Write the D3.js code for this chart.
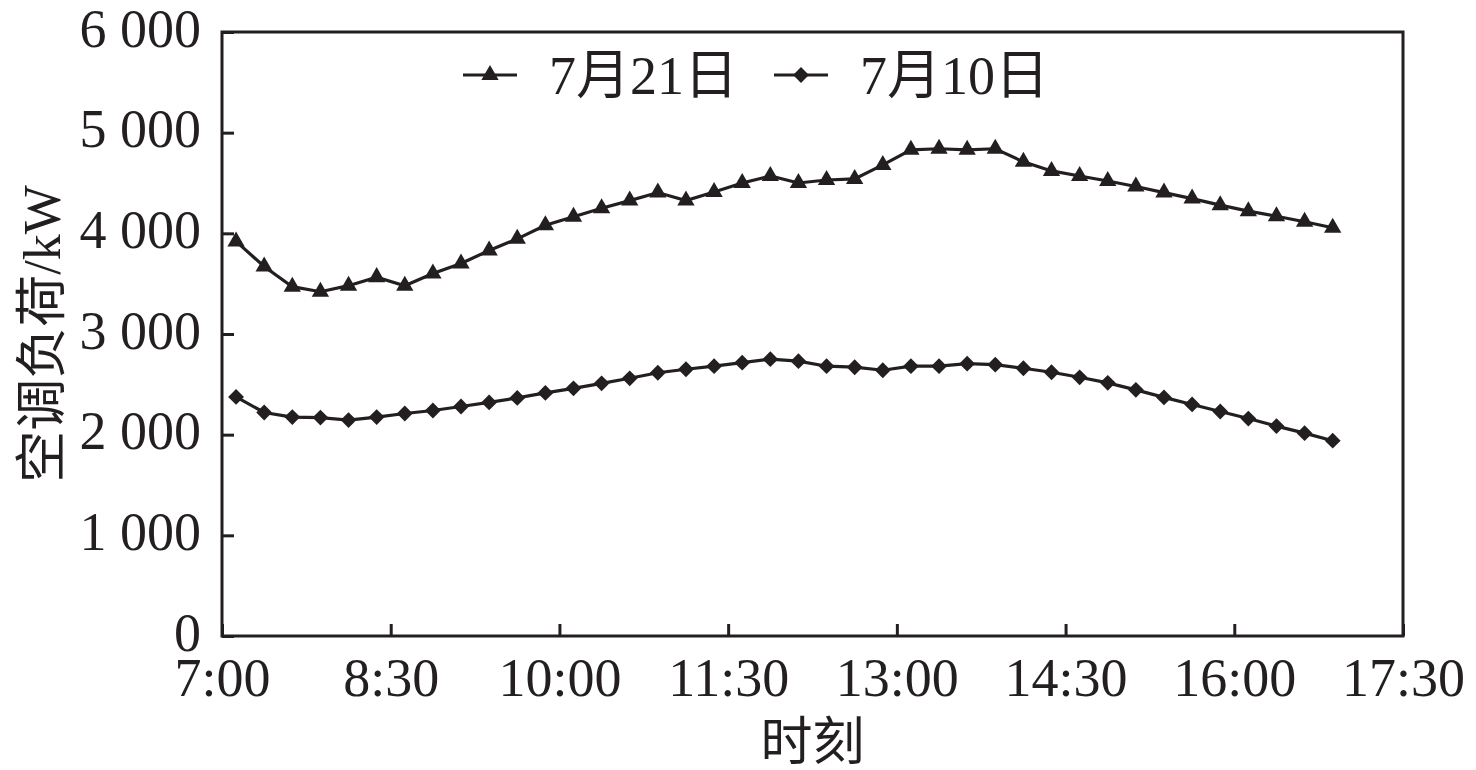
<!DOCTYPE html>
<html>
<head>
<meta charset="utf-8">
<script src="https://cdn.jsdelivr.net/npm/d3@7"></script>
<style>
  html, body { margin: 0; padding: 0; background: #fff; }
  text { font-family: "Liberation Serif", "Noto Sans CJK SC", serif; fill: #231f20; }
</style>
</head>
<body>
<div id="chart"></div>
<script>
// quarter-hour slots, each value plotted at the middle of its slot
const TIMES = [
    "7:00", "7:15", "7:30", "7:45", "8:00", "8:15", "8:30", "8:45",
    "9:00", "9:15", "9:30", "9:45", "10:00", "10:15", "10:30", "10:45",
    "11:00", "11:15", "11:30", "11:45", "12:00", "12:15", "12:30", "12:45",
    "13:00", "13:15", "13:30", "13:45", "14:00", "14:15", "14:30", "14:45",
    "15:00", "15:15", "15:30", "15:45", "16:00", "16:15", "16:30", "16:45"
];

const LOAD_0721 = [
    3920, 3670, 3470, 3420, 3480, 3565, 3480, 3600, 3700, 3830,
    3945, 4080, 4165, 4250, 4325, 4405, 4325, 4410, 4500, 4570,
    4500, 4530, 4540, 4680, 4830, 4840, 4830, 4840, 4710, 4620,
    4570, 4520, 4465, 4405, 4345, 4280, 4220, 4170, 4115, 4055
];

const LOAD_0710 = [
    2375, 2220, 2175, 2170, 2145, 2175, 2210, 2240, 2280, 2320,
    2365, 2415, 2460, 2510, 2560, 2615, 2650, 2680, 2715, 2750,
    2730, 2680, 2670, 2640, 2680, 2680, 2705, 2695, 2660, 2620,
    2570, 2515, 2445, 2370, 2300, 2230, 2160, 2085, 2015, 1940
];

const X_TICKS = ["7:00", "8:30", "10:00", "11:30", "13:00", "14:30", "16:00", "17:30"];
const Y_TICKS = [0, 1000, 2000, 3000, 4000, 5000, 6000];

const SERIES = [
    { name: "7月21日", values: LOAD_0721, marker: "triangle" },
    { name: "7月10日", values: LOAD_0710, marker: "diamond" }
];

const INK = "#231f20";
const width = 1476, height = 770;
const margin = { top: 32, right: 73, bottom: 134, left: 222 };
const innerW = width - margin.left - margin.right;
const innerH = height - margin.top - margin.bottom;

const toMin = s => {
    const [h, m] = s.split(":").map(Number);
    return h * 60 + m;
};

const svg = d3.select("#chart")
    .append("svg")
    .attr("width", width)
    .attr("height", height);

const g = svg.append("g")
    .attr("transform", `translate(${margin.left},${margin.top})`);

const x = d3.scaleLinear()
    .domain([toMin("7:00"), toMin("17:30")])
    .range([0, innerW]);

const y = d3.scaleLinear()
    .domain([0, 6000])
    .range([innerH, 0]);

const fmt = d3.formatLocale({ decimal: ".", thousands: " ", grouping: [3], currency: ["", ""] }).format(",d");

// y axis, ticks pointing inward
const yAxis = g.append("g")
    .call(d3.axisLeft(y).tickValues(Y_TICKS).tickSizeInner(-12).tickSizeOuter(0).tickFormat(fmt));
yAxis.select(".domain").remove();
yAxis.selectAll("line").attr("stroke", INK).attr("stroke-width", 3);
yAxis.selectAll("text")
    .attr("x", -21)
    .attr("dy", "0.26em")
    .style("font-size", "54px")
    .style("fill", INK);

// x axis, ticks pointing up
const xAxis = g.append("g")
    .attr("transform", `translate(0,${innerH})`)
    .call(d3.axisBottom(x).tickValues(X_TICKS.map(toMin)).tickSizeInner(-12).tickSizeOuter(0)
        .tickFormat((d, i) => X_TICKS[i]));
xAxis.select(".domain").remove();
xAxis.selectAll("line").attr("stroke", INK).attr("stroke-width", 3);
xAxis.selectAll("text")
    .attr("y", 60)
    .attr("dy", 0)
    .style("font-size", "54px")
    .style("fill", INK);

// frame
g.append("rect")
    .attr("width", innerW)
    .attr("height", innerH)
    .attr("fill", "none")
    .attr("stroke", INK)
    .attr("stroke-width", 3);

svg.append("text")
    .attr("x", margin.left + innerW / 2)
    .attr("y", 760)
    .attr("text-anchor", "middle")
    .style("font-size", "52px")
    .text("时刻");

svg.append("text")
    .attr("transform", `translate(60,${margin.top + innerH / 2}) rotate(-90)`)
    .attr("text-anchor", "middle")
    .style("font-size", "52px")
    .text("空调负荷/kW");

const triangle = d3.symbol().type(d3.symbolTriangle).size(130);
const diamond = d3.symbol().type(d3.symbolSquare).size(125);
const markerPath = m => m === "triangle" ? triangle() : diamond();
const markerRot = m => m === "triangle" ? "" : " rotate(45)";

const line = d3.line()
    .x((d, i) => x(toMin(TIMES[i]) + 7.5))
    .y(d => y(d));

const groups = g.selectAll(".series")
    .data(SERIES)
    .enter()
    .append("g")
    .attr("class", "series");

groups.append("path")
    .attr("d", d => line(d.values))
    .attr("fill", "none")
    .attr("stroke", INK)
    .attr("stroke-width", 3.2);

groups.each(function (s) {
    d3.select(this).selectAll(".pt")
        .data(s.values)
        .enter()
        .append("path")
        .attr("class", "pt")
        .attr("d", markerPath(s.marker))
        .attr("transform", (d, i) => `translate(${x(toMin(TIMES[i]) + 7.5)},${y(d)})${markerRot(s.marker)}`)
        .attr("fill", INK);
});

// legend
const legend = svg.append("g")
    .attr("transform", "translate(463,75)");

const legendItems = legend.selectAll(".legend-item")
    .data(SERIES)
    .enter()
    .append("g")
    .attr("class", "legend-item")
    .attr("transform", (d, i) => `translate(${i * 311},0)`);

legendItems.append("line")
    .attr("x1", 0).attr("x2", 54)
    .attr("stroke", INK)
    .attr("stroke-width", 3);

legendItems.append("path")
    .attr("d", d => markerPath(d.marker))
    .attr("transform", d => `translate(27,0)${markerRot(d.marker)}`)
    .attr("fill", INK);

legendItems.append("text")
    .attr("x", 86)
    .attr("dy", "0.35em")
    .style("font-size", "54px")
    .text(d => d.name);
</script>
</body>
</html>
